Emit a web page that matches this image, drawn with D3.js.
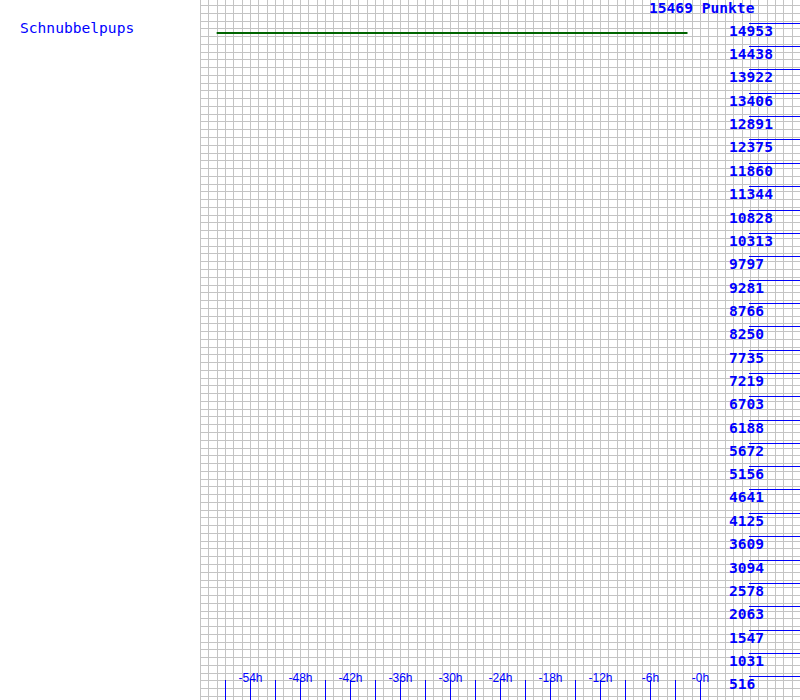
<!DOCTYPE html>
<html>
<head>
<meta charset="utf-8">
<script src="https://cdn.jsdelivr.net/npm/d3@7"></script>
<style>
  html, body { margin: 0; padding: 0; background: #fff; }
  svg { display: block; }
  text { font-family: "DejaVu Sans Mono", "Liberation Mono", monospace; }
</style>
</head>
<body>
<script>
// ---- data ----
const playerName = "Schnubbelpups";
const maxPoints = 15469;
const unitLabel = "Punkte";
const seriesHours = [-58, -1.5];
const seriesPoints = [14740, 14740];
const yTickLabels = ["516","1031","1547","2063","2578","3094","3609","4125","4641","5156",
  "5672","6188","6703","7219","7735","8250","8766","9281","9797","10313","10828","11344",
  "11860","12375","12891","13406","13922","14438","14953"];
const xTickHours = [-57,-54,-51,-48,-45,-42,-39,-36,-33,-30,-27,-24,-21,-18,-15,-12,-9,-6,-3,0];
const xLabelHours = [-54,-48,-42,-36,-30,-24,-18,-12,-6,0];

// ---- layout ----
const W = 800, H = 700;
const svg = d3.select("body").append("svg").attr("width", W).attr("height", H);
svg.append("rect").attr("width", W).attr("height", H).attr("fill", "#fff");

const x = d3.scaleLinear().domain([-60, 0]).range([200, 700]);
const y = d3.scaleLinear().domain([0, maxPoints]).range([700, 0]);

// grid
const grid = svg.append("g").attr("stroke", "#c4c4c4").attr("stroke-width", 1);
const vHours = d3.range(-60, 12.01, 1);
grid.selectAll("line.v").data(vHours).enter().append("line")
  .attr("x1", d => Math.round(x(d)) + 0.5).attr("x2", d => Math.round(x(d)) + 0.5)
  .attr("y1", 0).attr("y2", H);
const gy = d3.scaleLinear().domain([0, 89]).range([5, 696]);
grid.selectAll("line.h").data(d3.range(0, 90)).enter().append("line")
  .attr("y1", d => Math.round(gy(d)) + 0.5).attr("y2", d => Math.round(gy(d)) + 0.5)
  .attr("x1", 200).attr("x2", W);

// y ticks
const blue = "#0000ff";
const yTicks = yTickLabels.map((s, i) => ({ label: s, v: maxPoints * (i + 1) / 30 }));
const yg = svg.append("g");
yg.selectAll("line").data(yTicks).enter().append("line")
  .attr("x1", 749).attr("x2", W)
  .attr("y1", d => Math.floor(y(d.v)) + 0.5).attr("y2", d => Math.floor(y(d.v)) + 0.5)
  .attr("stroke", blue).attr("stroke-width", 1);
yg.selectAll("text").data(yTicks).enter().append("text")
  .attr("x", 729).attr("y", d => Math.floor(y(d.v)) + 13)
  .attr("fill", blue).attr("font-size", "14.6px").attr("font-weight", "bold")
  .text(d => d.label);

// top label
svg.append("text").attr("x", 649).attr("y", y(maxPoints) + 13)
  .attr("fill", blue).attr("font-size", "14.6px").attr("font-weight", "bold")
  .text(maxPoints + " " + unitLabel);

// x ticks
const xg = svg.append("g");
xg.selectAll("line").data(xTickHours).enter().append("line")
  .attr("x1", d => Math.round(x(d)) + 0.5).attr("x2", d => Math.round(x(d)) + 0.5)
  .attr("y1", 680).attr("y2", H)
  .attr("stroke", blue).attr("stroke-width", 1);
xg.selectAll("text").data(xLabelHours).enter().append("text")
  .attr("x", d => x(d) + 0.5).attr("y", 682)
  .attr("text-anchor", "middle")
  .attr("fill", blue).attr("font-size", "12px")
  .style("font-family", "'Liberation Sans', Arial, sans-serif")
  .text(d => "-" + Math.abs(d) + "h");

// series line
const line = d3.line().x(d => x(d[0])).y(d => y(d[1]));
svg.append("path").datum(seriesHours.map((h, i) => [h, seriesPoints[i]]))
  .attr("d", line).attr("fill", "none").attr("stroke", "#006400").attr("stroke-width", 2);

// player name
svg.append("text").attr("x", 20).attr("y", 33)
  .attr("fill", blue).attr("font-size", "14.6px")
  .text(playerName);
</script>
</body>
</html>
